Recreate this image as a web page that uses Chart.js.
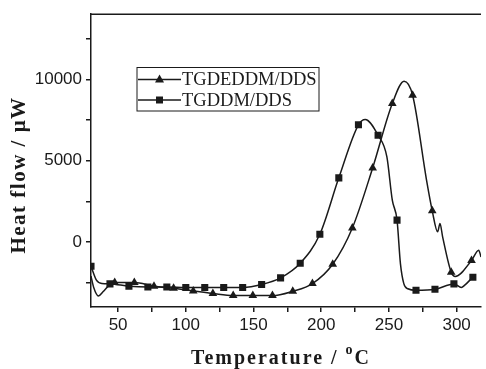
<!DOCTYPE html>
<html lang="en">
<head>
<meta charset="utf-8" />
<script src="https://cdn.jsdelivr.net/npm/chart.js@4.4.1/dist/chart.umd.min.js"></script>
<title>DSC heat flow</title>
<style>
  html, body { margin: 0; padding: 0; background: #fff; }
</style>
</head>
<body>
<canvas id="dsc" width="486" height="369"></canvas>
<script>
// TGDEDDM/DDS (triangles): marker points and extra points of the curve between them
var trMarkT = [47.5, 62, 76.5, 91, 105.5, 120, 135, 149.5, 164, 179, 193.5, 208.5, 223, 238, 252.5, 267.5, 282, 296, 311];
var trMarkY = [-2500, -2500, -2720, -2850, -3010, -3170, -3300, -3300, -3300, -3030, -2560, -1370, 860, 4550, 8510, 9020, 1910, -1860, -1140];
var trExtraT = [30, 32, 35.5, 39, 43, 261.2, 277.8, 286, 287.7, 289.7, 299, 316.3, 318];
var trExtraY = [-2100, -2800, -3320, -3050, -2700, 9880, 3790, 620, 1130, 300, -2120, -510, -920];

// TGDDM/DDS (squares)
var sqMarkT = [30, 44, 58, 72, 86, 100, 114, 128, 142, 156, 170, 184.5, 199, 213, 227.5, 242, 256, 270, 284, 298, 312];
var sqMarkY = [-1500, -2580, -2720, -2770, -2770, -2800, -2800, -2800, -2800, -2620, -2210, -1310, 470, 3940, 7200, 6560, 1340, -2970, -2910, -2580, -2170];
var sqExtraT = [34, 38, 232.5, 248.5, 252.5, 258.5, 261, 264, 303.5, 306, 314];
var sqExtraY = [-2350, -2560, 7530, 5230, 2570, -1330, -2560, -2880, -2800, -2660, -2050];

var xTicks = [50, 75, 100, 125, 150, 175, 200, 225, 250, 275, 300];
var yTicks = [-2500, 0, 2500, 5000, 7500, 10000, 12500];

function pts(t, y) {
    return t.map(function (v, i) { return { x: v, y: y[i] }; });
}
function curve(t1, y1, t2, y2) {
    return pts(t1, y1).concat(pts(t2, y2)).sort(function (a, b) { return a.x - b.x; });
}

var ink = "#1a1a1a";
var tickFont = { family: "'Liberation Sans', Arial, sans-serif", size: 17 };

// frame top line, legend box and axis titles
var extras = {
    id: "extras",
    afterDraw: function (chart) {
        var ctx = chart.ctx, a = chart.chartArea;
        ctx.save();
        ctx.strokeStyle = ink;
        ctx.fillStyle = ink;
        ctx.lineWidth = 1.5;
        ctx.beginPath();
        ctx.moveTo(a.left, a.top);
        ctx.lineTo(a.right, a.top);
        ctx.stroke();

        // legend
        ctx.lineWidth = 1;
        ctx.strokeRect(137, 67.5, 182, 43.5);
        var rows = [
            { y: 79.5, text: "TGDEDDM/DDS", shape: "tri" },
            { y: 100, text: "TGDDM/DDS", shape: "sq" },
        ];
        ctx.font = "18.5px 'Liberation Serif', 'Times New Roman', serif";
        ctx.textBaseline = "middle";
        ctx.textAlign = "left";
        rows.forEach(function (r) {
            ctx.lineWidth = 1.5;
            ctx.beginPath();
            ctx.moveTo(138, r.y);
            ctx.lineTo(181, r.y);
            ctx.stroke();
            ctx.beginPath();
            if (r.shape === "tri") {
                ctx.moveTo(159.5, r.y - 5);
                ctx.lineTo(164, r.y + 3);
                ctx.lineTo(155, r.y + 3);
                ctx.closePath();
            } else {
                ctx.rect(156, r.y - 3.5, 7, 7);
            }
            ctx.fill();
            ctx.fillText(r.text, 182, r.y + 1);
        });

        // y title
        ctx.save();
        ctx.translate(20, 175);
        ctx.rotate(-Math.PI / 2);
        ctx.font = "bold 21px 'Liberation Serif', 'Times New Roman', serif";
        ctx.letterSpacing = "1.5px";
        ctx.textAlign = "center";
        ctx.textBaseline = "middle";
        ctx.fillText("Heat flow / \u03bcW", 0, 0);
        ctx.restore();

        // x title with superscript o
        ctx.letterSpacing = "2px";
        ctx.textAlign = "left";
        ctx.textBaseline = "alphabetic";
        var main = "bold 20px 'Liberation Serif', 'Times New Roman', serif";
        var sup = "bold 14px 'Liberation Serif', 'Times New Roman', serif";
        ctx.font = main;
        var w1 = ctx.measureText("Temperature / ").width;
        var w3 = ctx.measureText("C").width;
        ctx.font = sup;
        var w2 = ctx.measureText("o").width;
        var x0 = 281 - (w1 + w2 + w3) / 2;
        ctx.font = main;
        ctx.fillText("Temperature / ", x0, 364);
        ctx.font = sup;
        ctx.fillText("o", x0 + w1, 354);
        ctx.font = main;
        ctx.fillText("C", x0 + w1 + w2, 364);
        ctx.restore();
    },
};

new Chart(document.getElementById("dsc").getContext("2d"), {
    type: "scatter",
    data: {
        datasets: [
            {
                data: curve(trMarkT, trMarkY, trExtraT, trExtraY),
                showLine: true,
                borderColor: ink,
                borderWidth: 1.5,
                pointRadius: 0,
                cubicInterpolationMode: "monotone",
            },
            {
                data: pts(trMarkT, trMarkY),
                pointStyle: "triangle",
                pointRadius: 5,
                backgroundColor: ink,
                borderColor: ink,
                borderWidth: 0,
            },
            {
                data: curve(sqMarkT, sqMarkY, sqExtraT, sqExtraY),
                showLine: true,
                borderColor: ink,
                borderWidth: 1.5,
                pointRadius: 0,
                cubicInterpolationMode: "monotone",
            },
            {
                data: pts(sqMarkT, sqMarkY),
                pointStyle: "rect",
                pointRadius: 5,
                backgroundColor: ink,
                borderColor: ink,
                borderWidth: 0,
            },
        ],
    },
    options: {
        responsive: false,
        animation: false,
        layout: { padding: { top: 13, right: 0, left: 0, bottom: 0 } },
        plugins: { legend: { display: false }, tooltip: { enabled: false } },
        scales: {
            x: {
                type: "linear",
                min: 30,
                max: 318,
                afterBuildTicks: function (s) {
                    s.ticks = xTicks.map(function (v) { return { value: v }; });
                },
                afterFit: function (s) { s.height = 62; },
                ticks: {
                    autoSkip: false,
                    maxRotation: 0,
                    padding: 3,
                    color: ink,
                    font: tickFont,
                    callback: function (v) { return v % 50 === 0 ? String(v) : ""; },
                },
                grid: { drawOnChartArea: false, tickLength: 5, color: ink, lineWidth: 1.5 },
                border: { color: ink, width: 1.5 },
            },
            y: {
                min: -4000,
                max: 14000,
                afterBuildTicks: function (s) {
                    s.ticks = yTicks.map(function (v) { return { value: v }; });
                },
                afterFit: function (s) { s.width = 91; },
                ticks: {
                    autoSkip: false,
                    padding: 4,
                    color: ink,
                    font: tickFont,
                    callback: function (v) { return v % 5000 === 0 ? String(v) : ""; },
                },
                grid: { drawOnChartArea: false, tickLength: 5, color: ink, lineWidth: 1.5 },
                border: { color: ink, width: 1.5 },
            },
        },
    },
    plugins: [extras],
});
</script>
</body>
</html>
